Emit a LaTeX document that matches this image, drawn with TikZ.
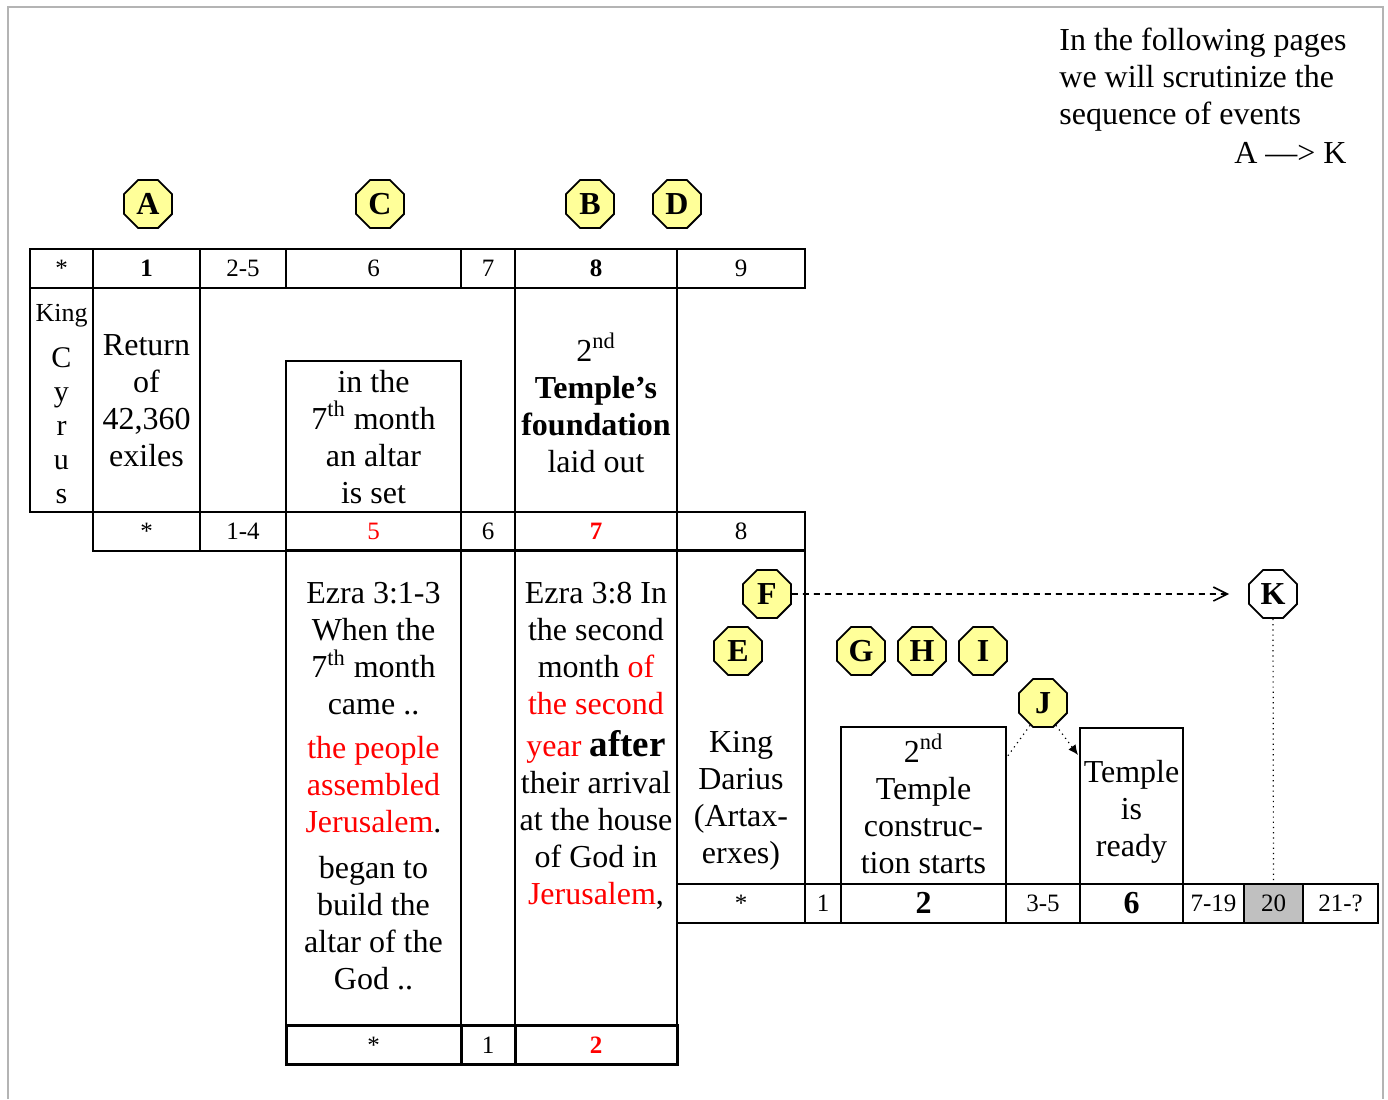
\documentclass[tikz,border=0pt]{standalone}
\usepackage{fontspec}
\setmainfont{Liberation Serif}
\usepackage{xcolor}
\usepackage{tikz}
\usetikzlibrary{shapes.geometric, arrows.meta}

\definecolor{badgefill}{HTML}{FFFF99}
\definecolor{framegray}{HTML}{B4B4B4}
\definecolor{shadecell}{HTML}{C0C0C0}

\newcommand{\bodyfont}{\fontsize{16}{18.5}\selectfont}
\newcommand{\numfont}{\fontsize{12.5}{15}\selectfont}
\newcommand{\bignum}[1]{{\fontsize{16}{16}\selectfont\bfseries #1}}

\tikzset{
  badge/.style={regular polygon, regular polygon sides=8, draw, line width=0.9pt,
    fill=badgefill, minimum size=26pt, inner sep=0pt, font=\fontsize{16}{16}\selectfont\bfseries},
  cell/.style={draw, line width=1pt, inner sep=0pt, minimum height=19.5pt, font=\numfont},
  box/.style={line width=1pt},
  txt/.style={inner sep=0pt, align=center, font=\bodyfont}
}

\begin{document}
\begin{tikzpicture}[x=0.5pt, y=-0.5pt]
    \useasboundingbox (0,0) rectangle (1388,1099);
    % Page frame
    \draw[framegray, line width=1pt] (8,1099) -- (8,7) -- (1383,7) -- (1383,1099);

    % Note, top right
    \node[txt, align=left, anchor=north west] (intro) at (1059,28) {In the following pages\\we will scrutinize the\\sequence of events};
    \node[txt, anchor=base east] (order) at (1347,163) {A —> K};

    % Event badges A..K
    \node[badge] (A) at (148,204) {A};
    \node[badge] (C) at (380,204) {C};
    \node[badge] (B) at (590,204) {B};
    \node[badge] (D) at (677,204) {D};
    \node[badge] (F) at (767,594) {F};
    \node[badge] (E) at (738,651) {E};
    \node[badge] (G) at (861,651) {G};
    \node[badge] (H) at (922,651) {H};
    \node[badge] (I) at (983,651) {I};
    \node[badge] (J) at (1043,703) {J};
    \node[badge, fill=white] (K) at (1273,594) {K};

    % Upper chapter row
    \foreach \a/\b/\t [count=\i] in {30/93/*, 93/200/\textbf{1}, 200/286/2-5, 286/461/6, 461/515/7, 515/677/\textbf{8}, 677/805/9}
        \node[cell, minimum width={(\b-\a)*0.5pt}] (top\i) at ({(\a+\b)/2},268.5) {\t};

    % Upper events
    \draw[box] (30,288) rectangle (93,512);
    \node[txt, font=\fontsize{15}{17}\selectfont] (cyrus) at (61.5,404) {{\fontsize{13}{17}\selectfont King}\\[6pt]C\\y\\r\\u\\s};
    \draw[box] (93,288) rectangle (200,512);
    \node[txt] (exiles) at (146.5,401) {Return\\of\\42,360\\exiles};
    \draw[box] (286,361) rectangle (461,512);
    \node[txt] (altar) at (373.5,437) {in the\\7\textsuperscript{th} month\\an altar\\is set};
    \draw[box] (515,288) rectangle (677,512);
    \node[txt] (founding) at (596,403) {2\textsuperscript{nd}\\\textbf{Temple’s}\\\textbf{foundation}\\laid out};

    % Middle chapter row
    \foreach \a/\b/\t [count=\i] in {93/200/*, 200/286/1-4, 286/461/\textcolor{red}{5}, 461/515/6, 515/677/\textcolor{red}{\textbf{7}}, 677/805/8}
        \node[cell, minimum width={(\b-\a)*0.5pt}] (mid\i) at ({(\a+\b)/2},531) {\t};

    % Ezra 3 quotes
    \draw[box] (286,550) rectangle (461,1026);
    \draw[box] (461,550) rectangle (515,1026);
    \draw[box] (515,550) rectangle (677,1026);
    \node[txt, anchor=north] (ezraone) at (373.5,582) {Ezra 3:1-3\\When the\\7\textsuperscript{th} month\\came ..\\[3.5pt]
        \textcolor{red}{the people}\\\textcolor{red}{assembled}\\\textcolor{red}{Jerusalem}.\\[4.5pt]
        began to\\build the\\altar of the\\God ..};
    \node[txt, anchor=north] (ezratwo) at (596,582) {Ezra 3:8 In\\the second\\month \textcolor{red}{of}\\\textcolor{red}{the second}\\[2.5pt]
        \textcolor{red}{year} {\fontsize{18.5}{18.5}\selectfont\bfseries after}\\their arrival\\at the house\\of God in\\\textcolor{red}{Jerusalem},};

    % Lower chapter row
    \foreach \a/\b/\t [count=\i] in {286/461/*, 461/515/1, 515/677/\textcolor{red}{\textbf{2}}}
        \node[cell, line width=1.5pt, minimum width={(\b-\a)*0.5pt}] (low\i) at ({(\a+\b)/2},1045) {\t};

    % Darius column
    \draw[box] (677,550) rectangle (805,884);
    \node[txt] (darius) at (741,801) {King\\Darius\\(Artax-\\erxes)};

    % Building boxes
    \draw[box] (841,727) rectangle (1006,884);
    \node[txt] (building) at (923.5,804) {2\textsuperscript{nd}\\Temple\\construc-\\tion starts};
    \draw[box] (1080,728) rectangle (1183,884);
    \node[txt] (ready) at (1131.5,812) {Temple\\is\\ready};

    % Darius chapter row
    \foreach \a/\b/\s/\t [count=\i] in {677/805/white/*, 805/841/white/1, 841/1006/white/\bignum{2}, 1006/1080/white/3-5,
        1080/1183/white/\bignum{6}, 1183/1244/white/7-19, 1244/1303/shadecell/20, 1303/1378/white/21-?}
        \node[cell, fill=\s, minimum width={(\b-\a)*0.5pt}] (bot\i) at ({(\a+\b)/2},903) {\t};

    % Connectors
    \coordinate (jleft) at (1007,757);
    \coordinate (jright) at (1078,755);
    \draw[dash pattern=on 3pt off 2.5pt, line width=0.8pt, -{Straight Barb[length=7pt, width=7pt]}, shorten >=9.5pt] (F) -- (K);
    \draw[dotted, line width=0.6pt] (K.south) -- (bot7.north);
    \draw[dotted, line width=0.6pt] (J.240) -- (jleft);
    \draw[dotted, line width=0.6pt, -{Latex[length=5pt, width=4.5pt]}] (J.-60) -- (jright);
\end{tikzpicture}
\end{document}
